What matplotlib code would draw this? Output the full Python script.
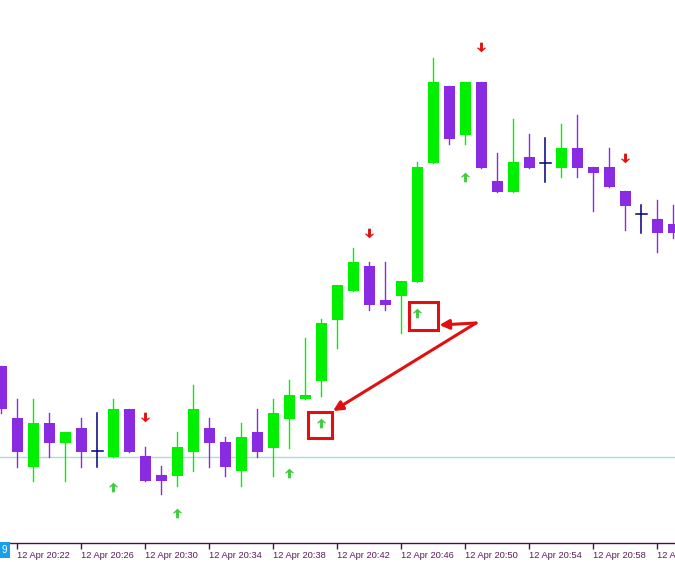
"""
M1 candlestick chart with signal arrows (MT4 style screenshot recreation)
"""

import numpy as np
import matplotlib.pyplot as plt
from matplotlib.patches import Rectangle

# Candles, one per minute, index 0 = 12 Apr 20:22 (first one is 20:21)
minutes = list(range(-1, 42))
opens = [234, 182, 133, 177, 157, 172, 149, 143, 191, 144, 125, 124, 148, 172, 158, 129,
         168, 152, 181, 201, 219, 280, 309, 334, 300, 304, 318, 437, 514, 465, 518, 419,
         408, 443, 437, 432, 452, 433, 433, 409, 386, 381, 376]
highs = [234, 201, 201, 187, 168, 182, 187, 201, 191, 153, 134, 168, 215, 182, 163, 177,
         191, 201, 220, 262, 281, 315, 352, 338, 338, 319, 438, 542, 514, 518, 518, 447,
         481, 466, 462, 476, 485, 433, 452, 409, 395, 400, 395]
lows = [187, 133, 119, 143, 119, 133, 133, 143, 148, 119, 106, 114, 129, 133, 124, 114,
        143, 124, 152, 201, 204, 252, 309, 290, 290, 267, 318, 437, 456, 456, 432, 408,
        408, 432, 418, 423, 423, 389, 413, 370, 367, 348, 362]
closes = [191, 148, 177, 157, 168, 148, 149, 191, 148, 119, 119, 153, 191, 157, 133, 163,
          148, 187, 205, 205, 277, 315, 338, 295, 295, 319, 433, 518, 461, 518, 432, 408,
          438, 432, 437, 452, 432, 427, 413, 394, 386, 367, 367]

# signal arrows (minute index, price)
buy_idx = [6, 10, 17, 19, 25, 28]
buy_price = [113, 87, 127, 177, 287, 423]
sell_idx = [8, 22, 29, 38]
sell_price = [183, 367, 553, 442]

level = 143  # horizontal line

# highlighted buy signals
boxed = [19, 25]

tick_idx = list(range(0, 41, 4))
tick_labels = ['12 Apr 20:22', '12 Apr 20:26', '12 Apr 20:30', '12 Apr 20:34',
               '12 Apr 20:38', '12 Apr 20:42', '12 Apr 20:46', '12 Apr 20:50',
               '12 Apr 20:54', '12 Apr 20:58', '12 Apr 21:02']

BULL = '#00f000'
BEAR = '#8a2be2'
DOJI = '#000080'
AXIS = '#4a1048'

# arrow marker shape (wingdings-like)
up_arrow = [(0, 1), (1, 0.05), (0.55, 0.05), (0.3, 0.3), (0.3, -1), (-0.3, -1),
            (-0.3, 0.3), (-0.55, 0.05), (-1, 0.05), (0, 1)]
down_arrow = [(x, -y) for x, y in up_arrow]

fig = plt.figure(figsize=(6.75, 5.62), dpi=100)
ax = fig.add_axes([0, 19 / 562, 1, 543 / 562])
ax.set_xlim(-17 / 16, 658 / 16)
ax.set_ylim(57, 600)

ax.axhline(level, color='#b0dcdc', lw=1, zorder=1)

w = 11 / 16
for x, o, h, l, c in zip(minutes, opens, highs, lows, closes):
    if o == c:
        col = DOJI
        ax.plot([x, x], [l, h], color=col, lw=1.1, zorder=2)
        ax.plot([x - w / 2, x + w / 2], [o, o], color=col, lw=1.1, zorder=2)
        continue
    col = BULL if c > o else BEAR
    ax.plot([x, x], [l, h], color=col, lw=1.0, zorder=2)
    ax.add_patch(Rectangle((x - w / 2, min(o, c)), w, max(abs(c - o), 1.2),
                           facecolor=col, edgecolor='none', zorder=3))

ax.scatter(buy_idx, buy_price, marker=up_arrow, s=48, color='#3ccc3c',
           linewidths=0, zorder=4)
ax.scatter(sell_idx, sell_price, marker=down_arrow, s=48, color='#e01010',
           linewidths=0, zorder=4)

# red boxes around two buy signals + pointer arrows
box_off = {19: (-0.81, 0.69, -15, 11), 25: (-0.5, 1.31, -17, 11)}
tip_off = {19: (0.75, 12), 25: (1.4, -12)}
src = (28.69, 277)
for j in boxed:
    p = buy_price[buy_idx.index(j)]
    x0, x1, y0, y1 = box_off[j]
    ax.add_patch(Rectangle((j + x0, p + y0), x1 - x0, y1 - y0, fill=False,
                           edgecolor='#e01010', lw=2.2, zorder=5))
    dx, dy = tip_off[j]
    ax.annotate('', xy=(j + dx, p + dy), xytext=src,
                arrowprops=dict(arrowstyle='-|>', color='#e01010', lw=2.2,
                                mutation_scale=14, shrinkA=0, shrinkB=0), zorder=6)

ax.set_xticks(tick_idx)
ax.set_xticklabels(tick_labels, ha='left', fontsize=6.7, family='Liberation Sans',
                   color='#5a1a5a')
ax.tick_params(axis='x', length=4, width=1, color=AXIS, pad=2)
ax.set_yticks([])
for s in ['top', 'left', 'right']:
    ax.spines[s].set_visible(False)
ax.spines['bottom'].set_color(AXIS)
ax.spines['bottom'].set_linewidth(1)

# crosshair time box at the left edge
fig.text(7.5 / 675, 12 / 562, '9', color='white', fontsize=7, ha='right', va='center',
         family='Liberation Sans',
         bbox=dict(boxstyle='square,pad=0.3', facecolor='#1aa0e8', edgecolor='none'))

plt.savefig('out.png', dpi=100)
